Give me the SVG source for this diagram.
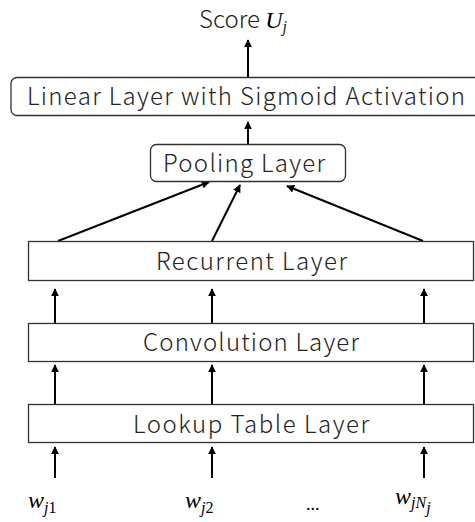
<svg xmlns="http://www.w3.org/2000/svg" width="475" height="522" viewBox="0 0 475 522">
<style>
.box{fill:#fff;stroke:#333;stroke-width:1.3}
.lbl{font-family:"Noto Sans CJK JP","Noto Sans",sans-serif;font-size:24px;font-weight:300;fill:#222}
.math{font-family:"Liberation Serif",serif;font-style:italic;font-size:24px;font-weight:normal;fill:#000}
.sub{font-family:"Liberation Serif",serif;font-style:italic;font-size:16px}
.up{font-style:normal}
.arr{stroke:#000;stroke-width:2;fill:none;marker-end:url(#ah)}
</style>
<defs>
<marker id="ah" viewBox="0 0 10 10" refX="9" refY="5" markerWidth="4" markerHeight="4" orient="auto" markerUnits="strokeWidth">
<path d="M0,0 L10,5 L0,10 z" fill="#000"/>
</marker>
</defs>
<g id="connectors">
<line class="arr" x1="248" y1="77" x2="248" y2="40"/>
<line class="arr" x1="248" y1="144" x2="248" y2="122"/>
<line class="arr" x1="58" y1="241" x2="209" y2="182"/>
<line class="arr" x1="212" y1="241" x2="240" y2="185"/>
<line class="arr" x1="423" y1="241" x2="287" y2="186"/>
<line class="arr" x1="55" y1="323" x2="55" y2="289"/>
<line class="arr" x1="212" y1="323" x2="212" y2="289"/>
<line class="arr" x1="424" y1="323" x2="424" y2="289"/>
<line class="arr" x1="55" y1="404" x2="55" y2="365"/>
<line class="arr" x1="212" y1="404" x2="212" y2="365"/>
<line class="arr" x1="424" y1="404" x2="424" y2="365"/>
<line class="arr" x1="55" y1="478" x2="55" y2="447"/>
<line class="arr" x1="212" y1="478" x2="212" y2="447"/>
<line class="arr" x1="424" y1="478" x2="424" y2="447"/>
</g>
<g id="score">
<text class="lbl" x="199" y="28" font-size="21">Score <tspan class="math" font-size="23">U</tspan><tspan class="sub" dy="4">j</tspan></text>
</g>
<g id="linear">
<rect class="box" x="11" y="77.5" width="470" height="38" rx="6"/>
<text class="lbl" x="27" y="105" textLength="438" lengthAdjust="spacing">Linear Layer with Sigmoid Activation</text>
</g>
<g id="pooling">
<rect class="box" x="150.5" y="144.5" width="195" height="37" rx="6"/>
<text class="lbl" x="163" y="172" textLength="162" lengthAdjust="spacing">Pooling Layer</text>
</g>
<g id="recurrent">
<rect class="box" x="28.5" y="241.5" width="445" height="39"/>
<text class="lbl" x="156" y="270" textLength="191" lengthAdjust="spacing">Recurrent Layer</text>
</g>
<g id="convolution">
<rect class="box" x="28.5" y="323.5" width="445" height="38"/>
<text class="lbl" x="143" y="351" textLength="216" lengthAdjust="spacing">Convolution Layer</text>
</g>
<g id="lookup">
<rect class="box" x="28.5" y="404.5" width="445" height="38"/>
<text class="lbl" x="133" y="433" textLength="236" lengthAdjust="spacing">Lookup Table Layer</text>
</g>
<g id="inputs">
<text class="math" x="28" y="508">w<tspan class="sub" dy="5">j<tspan class="up">1</tspan></tspan></text>
<text class="math" x="185" y="508">w<tspan class="sub" dy="5">j<tspan class="up">2</tspan></tspan></text>
<text x="306" y="510" font-family="Liberation Serif,serif" font-size="18">...</text>
<text class="math" x="395" y="504">w<tspan class="sub" dy="4">jN</tspan><tspan class="sub" font-size="12" dy="5">j</tspan></text>
</g>
</svg>
